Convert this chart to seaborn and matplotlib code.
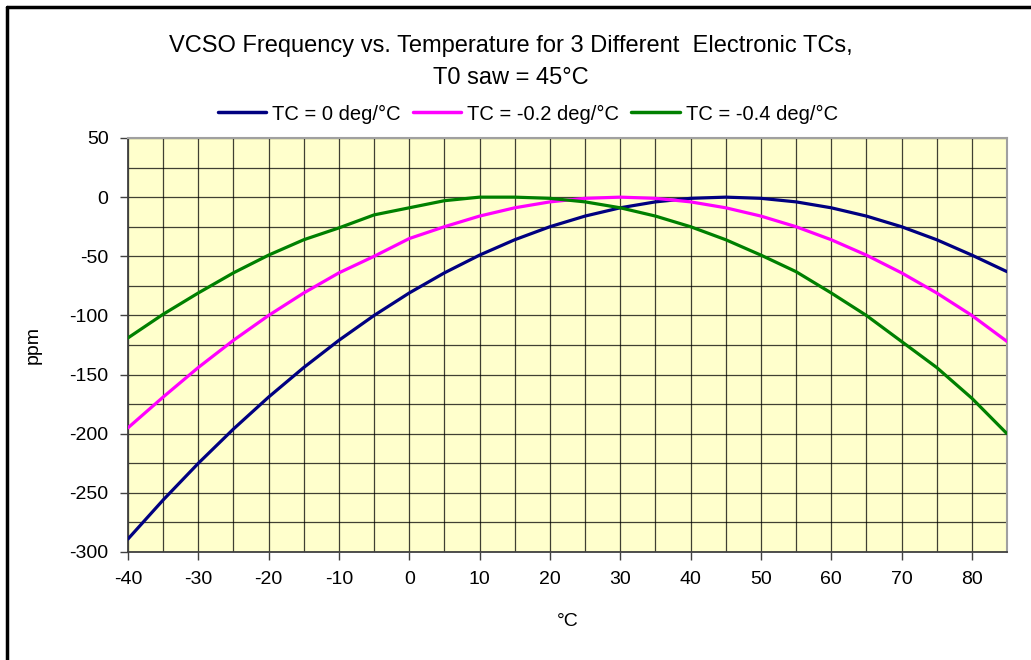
from matplotlib import pyplot as plt
from matplotlib.lines import Line2D
from matplotlib.ticker import MultipleLocator
import numpy as np
import pandas as pd
import seaborn as sns

# temperature points (deg C)
temps = [-40, -35, -30, -25, -20, -15, -10, -5, 0, 5, 10, 15, 20,
         25, 30, 35, 40, 45, 50, 55, 60, 65, 70, 75, 80, 85]

# ppm values
tc_0 = [-289, -256, -225, -196, -169, -144, -121, -100, -81, -64, -49, -36, -25,
        -16, -9, -4, -1, 0, -1, -4, -9, -16, -25, -36, -49, -63]
tc_m02 = [-195, -169, -144, -121, -100, -81, -64, -50, -35, -25, -16, -9, -4,
          -1, 0, -1, -4, -9, -16, -25, -36, -49, -64, -81, -100, -122]
tc_m04 = [-119, -99, -81, -64, -49, -36, -26, -15, -9, -3, 0, 0, -1,
          -4, -9, -16, -25, -36, -49, -63, -81, -100, -122, -144, -170, -200]

labels = ['TC = 0 deg/°C', 'TC = -0.2 deg/°C', 'TC = -0.4 deg/°C']
colors = ['#000080', '#FF00FF', '#008000']

df = pd.DataFrame({
    'temp': temps * 3,
    'ppm': tc_0 + tc_m02 + tc_m04,
    'series': [labels[0]] * len(temps) + [labels[1]] * len(temps) + [labels[2]] * len(temps),
})

sns.set_style('white')
plt.rcParams['font.family'] = ['Liberation Sans', 'DejaVu Sans']
plt.rcParams['axes.unicode_minus'] = False
plt.rcParams['text.color'] = 'black'
plt.rcParams['axes.labelcolor'] = 'black'
plt.rcParams['xtick.color'] = 'black'
plt.rcParams['ytick.color'] = 'black'

fig = plt.figure(figsize=(10.31, 6.6), dpi=100)
ax = fig.add_axes([128 / 1031, 1 - 552 / 660, (1007 - 128) / 1031, (552 - 138) / 660])
ax.set_facecolor('#FFFFCC')

sns.lineplot(data=df, x='temp', y='ppm', hue='series', palette=colors,
             linewidth=2.3, ax=ax, legend=False, zorder=3)

ax.set_xlim(-40, 85)
ax.set_ylim(-300, 50)
ax.xaxis.set_major_locator(MultipleLocator(10))
ax.xaxis.set_minor_locator(MultipleLocator(5))
ax.yaxis.set_major_locator(MultipleLocator(50))
ax.yaxis.set_minor_locator(MultipleLocator(25))
ax.grid(which='both', color='#000000', linewidth=0.9, alpha=0.75, zorder=1)
ax.set_axisbelow(True)

ax.tick_params(axis='both', which='major', labelsize=14, direction='out',
               length=6, width=1, color='#404040', labelcolor='black', pad=8,
               left=True, bottom=True)
ax.tick_params(axis='both', which='minor', length=0)

for s in ['left', 'bottom']:
    ax.spines[s].set_color('#404040')
    ax.spines[s].set_linewidth(1.3)
for s in ['top', 'right']:
    ax.spines[s].set_color('#a0a0a0')
    ax.spines[s].set_linewidth(1.5)

ax.set_xlabel('°C', fontsize=14, labelpad=18)
ax.set_ylabel('ppm', fontsize=14, labelpad=20)

fig.text(0.495, 1 - 46 / 660, 'VCSO Frequency vs. Temperature for 3 Different  Electronic TCs,',
         ha='center', va='center', fontsize=17)
fig.text(0.495, 1 - 78 / 660, 'T0 saw = 45°C', ha='center', va='center', fontsize=17)

handles = [Line2D([0], [0], color=c, lw=2.5) for c in colors]
fig.legend(handles, labels, loc='center', bbox_to_anchor=(0.512, 1 - 114 / 660),
           ncol=3, frameon=False, fontsize=14.5, handlelength=2.4,
           handletextpad=0.3, columnspacing=0.6)

# outer chart border (left and top visible)
fig.add_artist(Line2D([7 / 1031, 7 / 1031], [0, 1 - 7 / 660], color='black', lw=2.5))
fig.add_artist(Line2D([7 / 1031, 1], [1 - 7 / 660, 1 - 7 / 660], color='black', lw=2.5))

fig.savefig('out.png', dpi=100)
